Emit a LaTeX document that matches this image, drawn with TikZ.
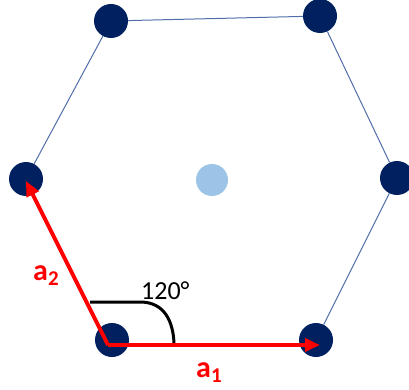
\documentclass[tikz,border=0pt]{standalone}
\usepackage{fontspec}
\setmainfont{Carlito}
\usetikzlibrary{arrows.meta}
\definecolor{navy}{RGB}{0,32,96}
\definecolor{paleblue}{RGB}{157,195,230}
\definecolor{edgeblue}{RGB}{80,110,170}
\definecolor{vecred}{RGB}{255,0,0}
\tikzset{
    site/.style={circle,fill=navy,minimum size=34pt,inner sep=0pt},
    vec/.style={vecred,line width=4pt,-{Triangle[length=15pt,width=13pt]}},
    veclabel/.style={vecred,font=\fontsize{30}{30}\selectfont\bfseries,anchor=base west,inner sep=0pt}
}

\begin{document}
\begin{tikzpicture}[x=1pt,y=-1pt]
    \useasboundingbox (0,0) rectangle (409,390);

    % Hexagon sites
    \node[site] (s1) at (111,21) {};
    \node[site] (s2) at (320,16) {};
    \node[site] (s3) at (397,178) {};
    \node[site] (s4) at (316,340) {};
    \node[site] (s5) at (112,340) {};
    \node[site] (s6) at (26,179) {};
    \node[circle,fill=paleblue,minimum size=32pt,inner sep=0pt] (c) at (212,180) {};

    % Hexagon edges
    \foreach \a/\b in {s1/s2,s2/s3,s3/s4,s6/s1}
        \draw[edgeblue,line width=1pt] (\a) -- (\b);

    % Angle between the vectors
    \draw[black,line width=3pt] (90,302) -- (140,302) .. controls (165,302) and (173,322) .. (174,343);
    \node[font=\fontsize{26}{26}\selectfont,anchor=base west,inner sep=0pt] (ang) at (141,299) {120°};

    % Lattice vectors
    \coordinate (o) at (108,345);
    \coordinate (t1) at (320,345);
    \coordinate (t2) at (26,181);
    \draw[vec] (o) -- (t1);
    \draw[vec] (o) -- (t2);
    \node[veclabel] (l1) at (196,377) {a\textsubscript{1}};
    \node[veclabel] (l2) at (33,280) {a\textsubscript{2}};
\end{tikzpicture}
\end{document}
